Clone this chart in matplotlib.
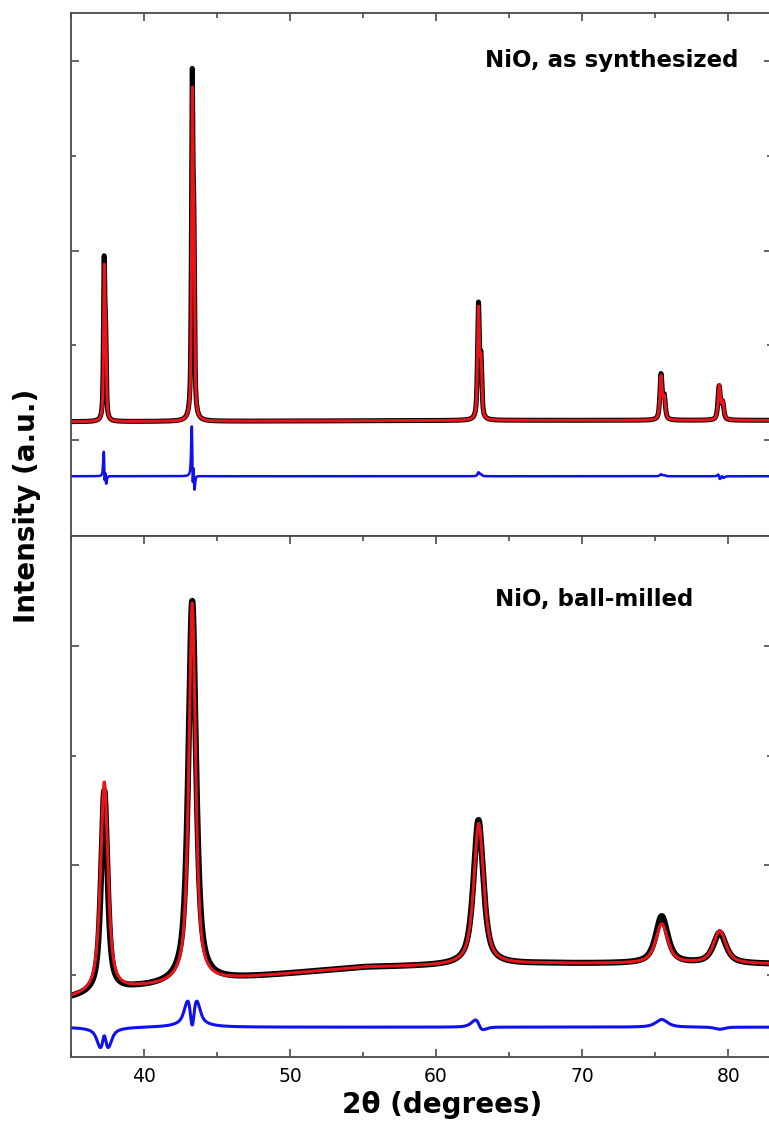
import numpy as np
import matplotlib
matplotlib.use("Agg")
import matplotlib.pyplot as plt
from matplotlib.ticker import MultipleLocator, FixedLocator, NullFormatter

plt.rcParams['font.family'] = ['DejaVu Sans']

# 2theta grid (degrees)
two_theta = np.arange(35.0, 83.001, 0.01)

# ---- NiO, as synthesized (top) ----
top_bg_x = [35, 45, 55, 65, 75, 83]
top_bg_y = [1950, 2000, 2050, 2100, 2100, 2100]
top_obs_pos = [37.27, 43.30, 62.90, 75.40, 79.38]
top_obs_h = [16000, 34100, 11800, 4700, 3500]
top_calc_pos = [37.28, 43.31, 62.90, 75.40, 79.39]
top_calc_h = [15200, 32300, 11400, 4500, 3600]
top_fwhm = [0.11, 0.12, 0.15, 0.18, 0.19]
top_ka2_shift = [0.10, 0.11, 0.17, 0.22, 0.24]
top_diff_offset = -3800

# ---- NiO, ball-milled (bottom) ----
bot_bg_x = [35, 39.5, 46, 55, 67, 72, 83]
bot_bg_y = [395, 440, 482, 535, 552, 552, 550]
bot_obs_pos = [37.28, 43.30, 62.90, 75.45, 79.42]
bot_obs_h = [920, 1740, 660, 215, 140]
bot_obs_fwhm = [0.52, 0.62, 0.80, 0.98, 1.02]
bot_calc_pos = [37.28, 43.30, 62.92, 75.45, 79.42]
bot_calc_h = [960, 1730, 645, 180, 150]
bot_calc_fwhm = [0.60, 0.55, 0.80, 0.98, 1.00]
bot_diff_offset = 262


def pattern(pos, h, fwhm, bg_x, bg_y, ka2=None, eta=0.65):
    y = np.interp(two_theta, bg_x, bg_y)
    for i, (p, a, w) in enumerate(zip(pos, h, fwhm)):
        comps = [(p, 1.0)]
        if ka2 is not None:
            comps.append((p + ka2[i], 0.5))
        for c, r in comps:
            d = (two_theta - c) / (w / 2)
            lor = 1 / (1 + d ** 2)
            gau = np.exp(-np.log(2) * d ** 2)
            y = y + a * r * (eta * lor + (1 - eta) * gau)
    return y


top_obs = pattern(top_obs_pos, top_obs_h, top_fwhm, top_bg_x, top_bg_y, top_ka2_shift)
top_calc = pattern(top_calc_pos, top_calc_h, top_fwhm, top_bg_x, top_bg_y, top_ka2_shift)
top_diff = top_obs - top_calc + top_diff_offset

bot_obs = pattern(bot_obs_pos, bot_obs_h, bot_obs_fwhm, bot_bg_x, bot_bg_y, eta=0.75)
bot_calc = pattern(bot_calc_pos, bot_calc_h, bot_calc_fwhm, bot_bg_x, bot_bg_y, eta=0.75)
bot_diff = bot_obs - bot_calc + bot_diff_offset

fig = plt.figure(figsize=(7.69, 11.24), dpi=100)
left, right = 71 / 769, 772 / 769
y_top, y_mid, y_bot = 1 - 13 / 1124, 1 - 536 / 1124, 1 - 1057 / 1124
ax1 = fig.add_axes([left, y_mid, right - left, y_top - y_mid])
ax2 = fig.add_axes([left, y_bot, right - left, y_mid - y_bot])

ax1.plot(two_theta, top_obs, color="black", lw=3.6, solid_capstyle="round")
ax1.plot(two_theta, top_calc, color="#e8141b", lw=2.2)
ax1.plot(two_theta, top_diff, color="#1010ee", lw=1.8)
ax1.set_ylim(-10100, 45050)
ax1.yaxis.set_major_locator(FixedLocator([0, 20000, 40000]))
ax1.yaxis.set_minor_locator(FixedLocator([10000, 30000]))

ax2.plot(two_theta, bot_obs, color="black", lw=4.4, solid_capstyle="round")
ax2.plot(two_theta, bot_calc, color="#e8141b", lw=2.2)
ax2.plot(two_theta, bot_diff, color="#1010ee", lw=2.2)
ax2.set_ylim(126, 2502)
ax2.yaxis.set_major_locator(FixedLocator([1000, 2000]))
ax2.yaxis.set_minor_locator(FixedLocator([500, 1500]))

for ax in (ax1, ax2):
    ax.set_xlim(35, 83)
    ax.xaxis.set_major_locator(MultipleLocator(10))
    ax.xaxis.set_minor_locator(MultipleLocator(5))
    ax.yaxis.set_major_formatter(NullFormatter())
    for sp in ax.spines.values():
        sp.set_color("#4a4a4a")
        sp.set_linewidth(1.3)
    ax.tick_params(which="both", direction="in", color="#4a4a4a", width=1.2,
                   left=True, right=True, top=True, bottom=True, labelsize=13.5, pad=7)
    ax.tick_params(which="major", length=6)
    ax.tick_params(which="minor", length=3.5)

ax1.tick_params(which="both", bottom=False, labelbottom=False)

fig.text(738 / 769, 1 - 61 / 1124, "NiO, as synthesized", ha="right", va="center",
         fontsize=16.5, fontweight="bold")
fig.text(693 / 769, 1 - 600 / 1124, "NiO, ball-milled", ha="right", va="center",
         fontsize=16.5, fontweight="bold")
fig.text(342 / 769, 1 - 1105 / 1124, "2\u03b8 (degrees)", ha="left", va="center",
         fontsize=20, fontweight="bold")
fig.text(27 / 769, 1 - 506 / 1124, "Intensity (a.u.)", ha="center", va="center",
         rotation=90, fontsize=20, fontweight="bold")

fig.savefig("out.png", dpi=100)
